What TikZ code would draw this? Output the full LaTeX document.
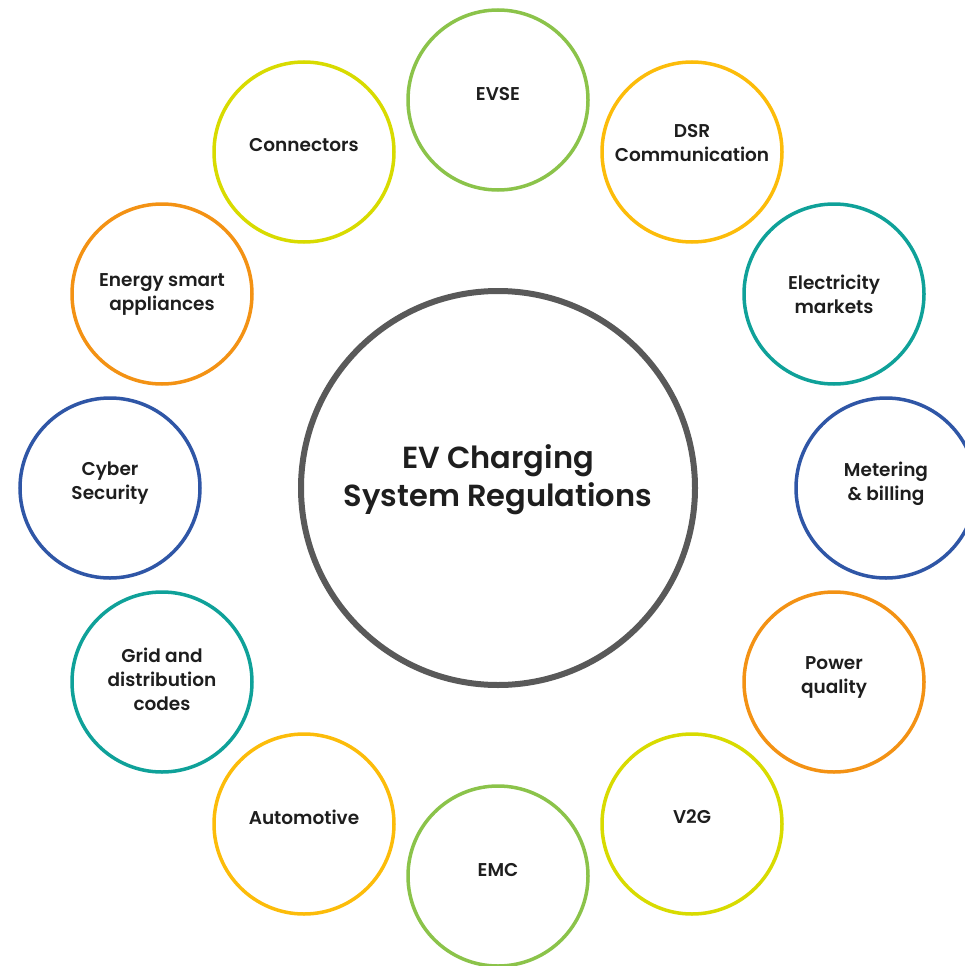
\documentclass[tikz,border=0pt]{standalone}
\usepackage{fontspec}
\usetikzlibrary{calc}
\newfontfamily\labelfont{Poppins SemiBold}
\definecolor{hubgray}{HTML}{595959}
\definecolor{txt}{HTML}{1E1E1E}
\definecolor{cgreen}{HTML}{8BC34A}
\definecolor{camber}{HTML}{FCBC0A}
\definecolor{cteal}{HTML}{0FA199}
\definecolor{cblue}{HTML}{2F56A6}
\definecolor{corange}{HTML}{F39214}
\definecolor{clime}{HTML}{D8DB00}
\begin{document}
\begin{tikzpicture}[x=1pt,y=-1pt,
  topic/.style={circle, draw=#1, line width=3.5pt, minimum size=180pt, inner sep=0pt},
  caption/.style={font=\labelfont\fontsize{18.5}{24}\selectfont, text=txt, align=center, inner sep=0pt},
  hubcaption/.style={font=\labelfont\fontsize{30.5}{38}\selectfont, text=txt, align=center, inner sep=0pt}]
\useasboundingbox (0,0) rectangle (965,966);
\clip (0,0) rectangle (965,966);

% central hub
\node[circle, draw=hubgray, line width=6pt, minimum size=394pt, inner sep=0pt] (hub) at (498,488) {};
\node[hubcaption] (hubtext) at (498,480) {EV Charging\\System Regulations};

% ring of topics, 30 degrees apart around the hub
\node[topic=cgreen]  (evse)  at (498,100) {};
\node[topic=camber]  (dsr)   at (692,152) {};
\node[topic=cteal]   (elec)  at (834,294) {};
\node[topic=cblue]   (meter) at (886,488) {};
\node[topic=corange] (power) at (834,682) {};
\node[topic=clime]   (vtog)  at (692,824) {};
\node[topic=cgreen]  (emc)   at (498,876) {};
\node[topic=camber]  (auto)  at (304,824) {};
\node[topic=cteal]   (grid)  at (162,682) {};
\node[topic=cblue]   (cyber) at (110,488) {};
\node[topic=corange] (esa)   at (162,294) {};
\node[topic=clime]   (conn)  at (304,152) {};

% captions
\node[caption] (evsetext)  at ($(evse)+(0,-6)$)  {EVSE};
\node[caption] (dsrtext)   at ($(dsr)+(0,-9)$)   {DSR\\Communication};
\node[caption] (electext)  at ($(elec)+(0,0)$)   {Electricity\\markets};
\node[caption] (metertext) at ($(meter)+(0,-4)$) {Metering\\\& billing};
\node[caption] (powertext) at ($(power)+(0,-5)$) {Power\\quality};
\node[caption] (vtogtext)  at ($(vtog)+(0,-7)$)  {V2G};
\node[caption] (emctext)   at ($(emc)+(0,-6)$)   {EMC};
\node[caption] (autotext)  at ($(auto)+(0,-7)$)  {Automotive};
\node[caption] (gridtext)  at ($(grid)+(0,-3)$)  {Grid and\\distribution\\codes};
\node[caption] (cybertext) at ($(cyber)+(0,-5)$) {Cyber\\Security};
\node[caption] (esatext)   at ($(esa)+(0,0)$)    {Energy smart\\appliances};
\node[caption] (conntext)  at ($(conn)+(0,-7)$)  {Connectors};
\end{tikzpicture}
\end{document}
